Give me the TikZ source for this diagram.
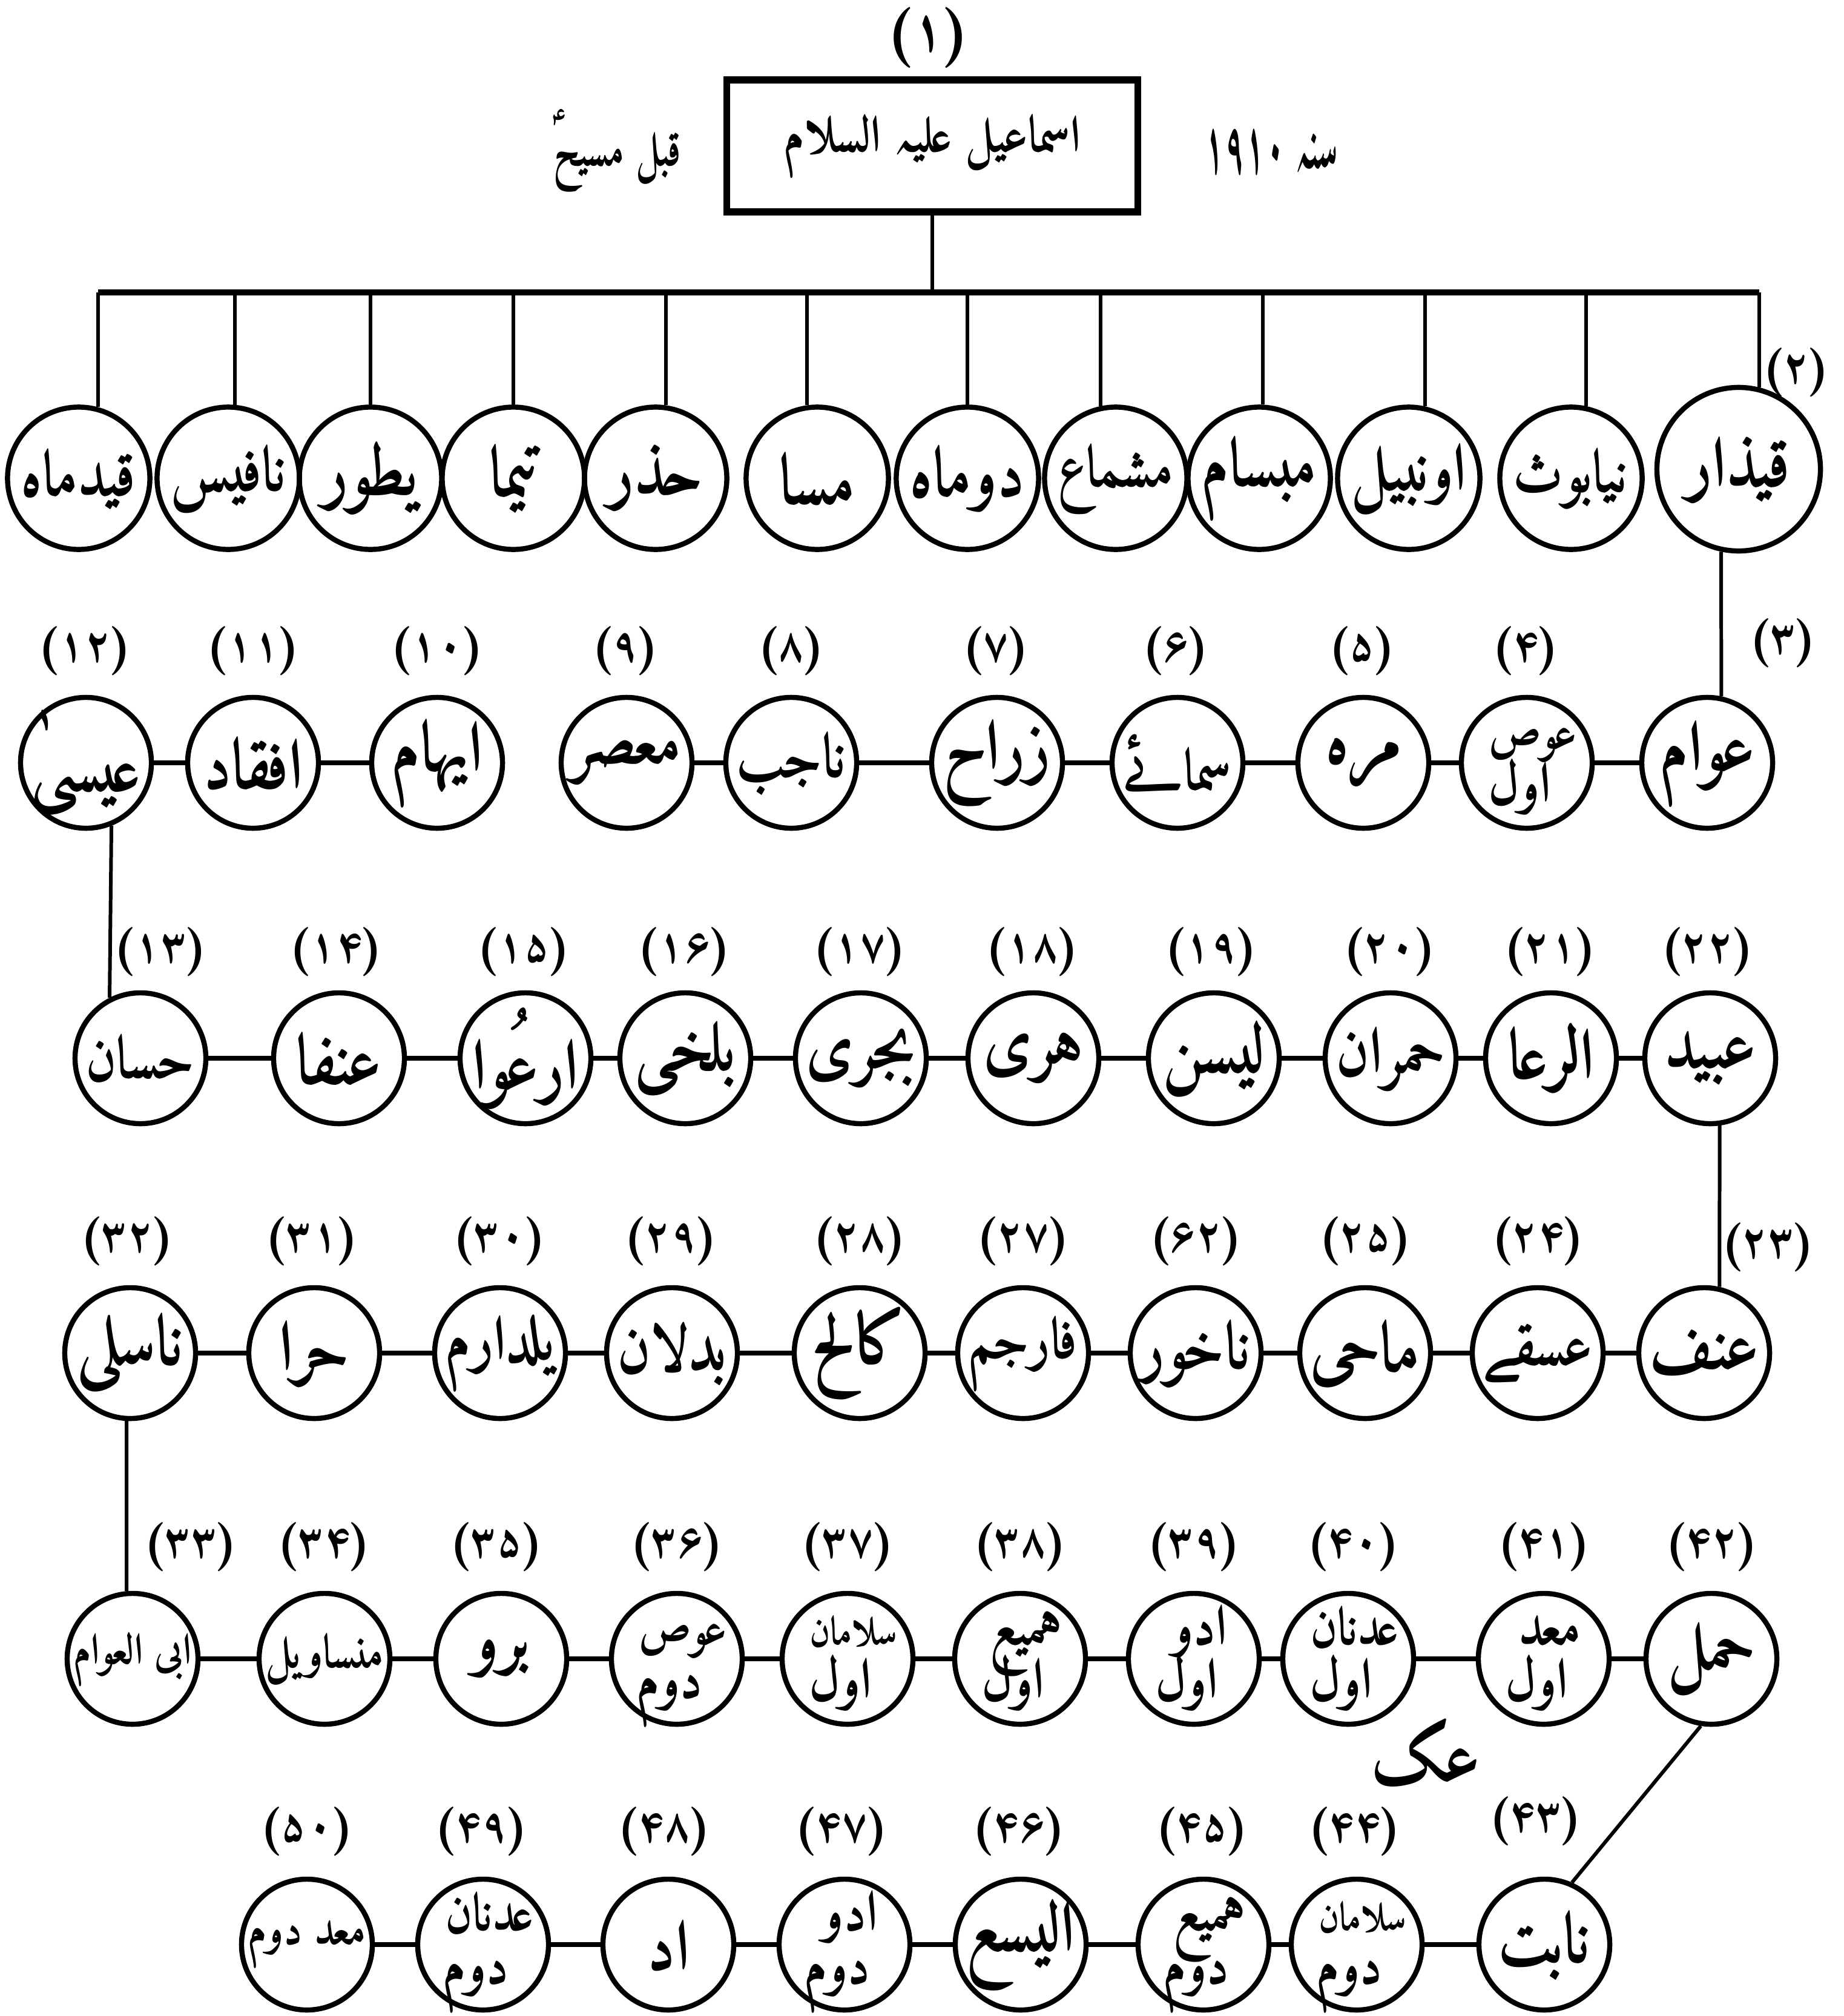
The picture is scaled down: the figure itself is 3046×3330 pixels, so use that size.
\documentclass[tikz,border=0pt]{standalone}
\usepackage{fontspec}
\usepackage{graphicx}
\TeXXeTstate=1
\IfFontExistsTF{Amiri-Bold.ttf}{%
  \newfontfamily\urfont[Script=Arabic]{Amiri-Bold.ttf}%
  \newfontfamily\numfont[Script=Arabic]{Amiri-Bold.ttf}%
  \newcommand\vs{1.1}%
}{%
  \newfontfamily\urfont[Script=Arabic,FakeBold=1.6]{DejaVu Sans}%
  \newfontfamily\numfont[FakeBold=1.2]{DejaVu Sans}%
  \newcommand\vs{1.2}%
}
\newsavebox\fitbox
\newcommand\fitw[2]{\sbox\fitbox{#2}\ifdim\wd\fitbox>#1\relax\resizebox{#1}{!}{\usebox\fitbox}\else\usebox\fitbox\fi}
\newcommand\Nm[2][1.8cm]{\scalebox{1}[\vs]{\fitw{#1}{\urfont\beginR #2\endR}}}
% one-line person
\newcommand\pn[4][person]{\node[#1] (#2) at (#3) {}; \node[nm] (#2t) at (#2) {#4};}
% two-line person: first word up right, second word down left
\newcommand\pp[4]{\node[person] (#1) at (#2) {};
  \node[nm, twofont, anchor=base] (#1t) at ([xshift=0.1cm,yshift=0.24cm]#1.center) {\Nm[1.45cm]{#3}};
  \node[nm, twofont, anchor=base] (#1u) at ([xshift=-0.12cm,yshift=-0.64cm]#1.center) {\Nm[1.4cm]{#4}};}
\tikzset{
  person/.style={circle, draw, line width=2.4pt, minimum size=2.16cm, inner sep=0pt},
  rowone/.style={person, minimum size=2.35cm},
  big/.style={person, minimum size=2.7cm},
  nm/.style={inner sep=0pt, align=center, font=\fontsize{30}{32}\selectfont},
  twofont/.style={font=\fontsize{24}{24}\selectfont},
  numlab/.style={font=\numfont\fontsize{21}{21}\selectfont, inner sep=0pt},
  link/.style={line width=2.2pt},
  tree/.style={line width=1.7pt},
}
\begin{document}
\begin{tikzpicture}[x=0.01cm,y=-0.01cm]
\fill[white] (0,0) rectangle (3046,3330);
\useasboundingbox (0,0) rectangle (3046,3330);

% top
\node[numlab, font=\numfont\fontsize{26}{26}\selectfont] (n1) at (1533,62) {(۱)};
\node[draw, line width=3.2pt, minimum width=6.78cm, minimum height=2.18cm, inner sep=0pt] (root) at (1540,241) {};
\node[nm, font=\fontsize{46}{48}\selectfont] (roott) at (root) {\Nm[4.9cm]{اسماعیل علیہ السلام}};
\node[nm, font=\fontsize{40}{42}\selectfont\renewcommand\vs{1.3}] (qm) at (1020,250) {\Nm[2.1cm]{قبل مسیحؑ}};
\node[nm, font=\fontsize{44}{46}\selectfont\renewcommand\vs{2.0}] (sana) at (2100,250) {\Nm[2.2cm]{سنہ ۱۹۱۰}};
\coordinate (bar) at (0,483);

% row 1
\pn[rowone]{a1}{130,790}{\Nm[1.9cm]{قیدماہ}}
\pn[rowone]{a2}{377,790}{\Nm[1.9cm]{نافیس}}
\pn[rowone]{a3}{612,790}{\Nm[1.9cm]{یطور}}
\pn[rowone]{a4}{848,790}{\Nm[1.9cm]{تیما}}
\pn[rowone]{a5}{1083,790}{\Nm[1.9cm]{حذر}}
\pn[rowone]{a6}{1350,790}{\Nm[1.9cm]{مسا}}
\pn[rowone]{a7}{1598,790}{\Nm[1.9cm]{دوماہ}}
\pn[rowone]{a8}{1843,790}{\Nm[1.9cm]{مشماع}}
\pn[rowone]{a9}{2080,790}{\Nm[1.9cm]{مبسام}}
\pn[rowone]{a10}{2327,790}{\Nm[1.9cm]{اونبیل}}
\pn[rowone]{a11}{2595,790}{\Nm[1.9cm]{نیابوث}}
\pn[big]{a12}{2872,775}{\Nm[2.1cm]{قیذار}}
\node[numlab] (n2) at (2967,615) {(۲)};

\draw[tree] (root.south) -- (root.south |- bar);
\draw[tree, line width=2.6pt] (a1.75 |- bar) -- (a12.76 |- bar);
\foreach \n/\ang in {a1/75,a2/85,a3/90,a4/90,a5/82,a6/98,a7/90,a8/102,a9/87,a10/77,a11/78,a12/76}
  \draw[tree] (\n.\ang) -- (\n.\ang |- bar);

% row 2
\pn{b1}{142,1260}{\Nm{عیسیٰ}}
\pn{b2}{418,1260}{\Nm{افقاد}}
\pn{b3}{722,1260}{\Nm{ایہام}}
\pn{b4}{1035,1260}{\Nm{معصر}}
\pn{b5}{1307,1260}{\Nm{ناجب}}
\pn{b6}{1647,1260}{\Nm{زراح}}
\pn{b7}{1945,1260}{\Nm{سمائے}}
\pn{b8}{2252,1260}{\Nm{مرہ}}
\pp{b9}{2522,1260}{عوص}{اول}
\pn{b10}{2820,1260}{\Nm{عوام}}
\foreach \x/\t in {140/(۱۲),418/(۱۱),722/(۱۰),1033/(۹),1307/(۸),1645/(۷),1942/(۶),2250/(۵),2520/(۴)}
  \node[numlab] at (\x,1075) {\t};
\node[numlab] (n3) at (2945,1062) {(۳)};
\draw[tree] (a12.-102) -- (b10.78);
\foreach \a/\b in {b1/b2,b2/b3,b4/b5,b5/b6,b6/b7,b7/b8,b8/b9,b9/b10}
  \draw[link] (\a) -- (\b);

% row 3
\pn{c1}{232,1748}{\Nm{حسان}}
\pn{c2}{560,1748}{\Nm{عنفا}}
\pn{c3}{868,1748}{\Nm{ارعُوا}}
\pn{c4}{1132,1748}{\Nm{بلخی}}
\pn{c5}{1422,1748}{\Nm{بجری}}
\pn{c6}{1707,1748}{\Nm{ہری}}
\pn{c7}{2005,1748}{\Nm{لیسن}}
\pn{c8}{2297,1748}{\Nm{حمران}}
\pn{c9}{2562,1748}{\Nm{الرعا}}
\pn{c10}{2825,1748}{\Nm{عبید}}
\foreach \x/\t in {265/(۱۳),555/(۱۴),865/(۱۵),1130/(۱۶),1420/(۱۷),1705/(۱۸),2000/(۱۹),2295/(۲۰),2560/(۲۱),2820/(۲۲)}
  \node[numlab] at (\x,1572) {\t};
\draw[tree] (b1.-68) -- (c1.117);
\foreach \a/\b in {c1/c2,c2/c3,c3/c4,c4/c5,c5/c6,c6/c7,c7/c8,c8/c9,c9/c10}
  \draw[link] (\a) -- (\b);

% row 4
\pn{d1}{215,2235}{\Nm{ناسلی}}
\pn{d2}{519,2235}{\Nm{حرا}}
\pn{d3}{826,2235}{\Nm{یلدارم}}
\pn{d4}{1110,2235}{\Nm{بدلان}}
\pn{d5}{1420,2235}{\Nm{کالح}}
\pn{d6}{1690,2235}{\Nm{فارجم}}
\pn{d7}{1975,2235}{\Nm{ناخور}}
\pn{d8}{2255,2235}{\Nm{ماحی}}
\pn{d9}{2540,2235}{\Nm{عسقے}}
\pn{d10}{2815,2235}{\Nm{عنف}}
\foreach \x/\t in {210/(۳۲),515/(۳۱),825/(۳۰),1108/(۲۹),1420/(۲۸),1690/(۲۷),1975/(۶۲),2255/(۲۵),2540/(۲۴)}
  \node[numlab] at (\x,2050) {\t};
\node[numlab] (n23) at (2920,2060) {(۲۳)};
\draw[tree] (c10.-82) -- (d10.77);
\foreach \a/\b in {d1/d2,d2/d3,d3/d4,d4/d5,d5/d6,d6/d7,d7/d8,d8/d9,d9/d10}
  \draw[link] (\a) -- (\b);

% row 5
\pn{e1}{219,2740}{\Nm[1.95cm]{ابی العوام}}
\pn{e2}{536,2740}{\Nm[1.95cm]{منساویل}}
\pn{e3}{828,2740}{\Nm{برو}}
\pp{e4}{1118,2740}{عوص}{دوم}
\pp{e5}{1400,2740}{سلامان}{اول}
\pp{e6}{1685,2740}{ہمیع}{اول}
\pp{e7}{1972,2740}{ادو}{اول}
\pp{e8}{2227,2740}{عدنان}{اول}
\pp{e9}{2550,2740}{معد}{اول}
\pn{e10}{2827,2740}{\Nm{حمل}}
\foreach \x/\t in {315/(۳۳),535/(۳۴),820/(۳۵),1118/(۳۶),1400/(۳۷),1685/(۳۸),1972/(۳۹),2235/(۴۰),2550/(۴۱),2827/(۴۲)}
  \node[numlab] at (\x,2555) {\t};
\draw[tree] (d1.-93) -- (e1.95);
\foreach \a/\b in {e1/e2,e2/e3,e3/e4,e4/e5,e5/e6,e6/e7,e7/e8,e8/e9,e9/e10}
  \draw[link] (\a) -- (\b);
\node[nm, font=\fontsize{36}{38}\selectfont] (ak) at (2355,2895) {\Nm{عک}};

% row 6
\pn{f1}{507,3212}{\Nm[1.95cm]{معد دوم}}
\pp{f2}{798,3212}{عدنان}{دوم}
\pn{f3}{1104,3212}{\Nm{اد}}
\pp{f4}{1395,3212}{ادو}{دوم}
\pn{f5}{1686,3212}{\Nm{الیسع}}
\pp{f6}{1988,3212}{ہمیع}{دوم}
\pp{f7}{2241,3212}{سلامان}{دوم}
\pn{f8}{2551,3212}{\Nm{نابت}}
\foreach \x/\t in {507/(۵۰),795/(۴۹),1097/(۴۸),1390/(۴۷),1683/(۴۶),1985/(۴۵),2237/(۴۴)}
  \node[numlab] at (\x,3025) {\t};
\node[numlab] (n43) at (2536,3008) {(۴۳)};
\draw[tree] (e10.-99) -- (f8.66);
\foreach \a/\b in {f1/f2,f2/f3,f3/f4,f4/f5,f5/f6,f6/f7,f7/f8}
  \draw[link] (\a) -- (\b);
\end{tikzpicture}
\end{document}
